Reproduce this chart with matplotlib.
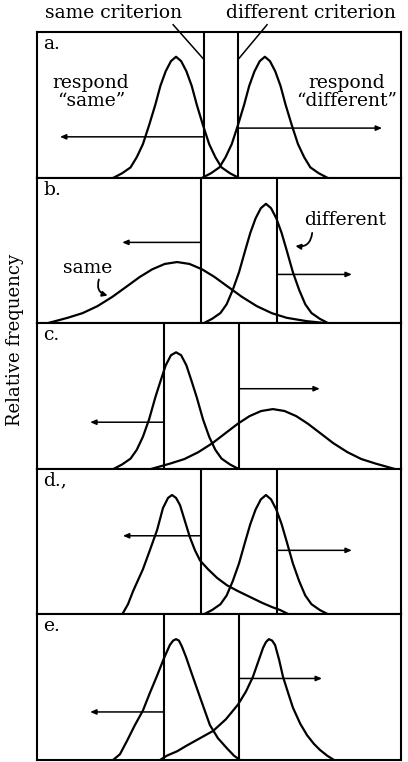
import matplotlib
matplotlib.use('Agg')
import matplotlib.pyplot as plt

plt.rcParams['font.family'] = 'DejaVu Serif'

# Five panels, evidence axis 0-100, relative frequency 0-1
panels = ['a.', 'b.', 'c.', 'd.,', 'e.']
same_crit = [45.9, 45.1, 34.9, 45.1, 34.9]
diff_crit = [55.2, 65.9, 55.5, 65.9, 55.5]

# response arrows start at the criterion, at a height, and run to an end x
same_arrow_y = [0.28, 0.555, 0.32, 0.54, 0.33]
same_arrow_end = [6.3, 23.4, 14.6, 23.6, 14.6]
diff_arrow_y = [0.34, 0.335, 0.55, 0.44, 0.56]
diff_arrow_end = [94.8, 86.5, 77.7, 86.5, 78.3]

# "same" distributions
same_x = [
    [21.1, 23.4, 25.7, 27.4, 29.1, 30.8, 32.5, 33.9, 35.35, 36.8, 38.2, 39.6, 41.05, 42.5, 43.9,
     45.6, 47.3, 49.0, 50.7, 53.0, 55.3],
    [2.9, 8.4, 12.5, 16.6, 20.7, 24.8, 28.2, 31.65, 35.1, 38.5, 41.9, 45.35, 48.8, 52.2, 56.3,
     60.4, 64.5, 68.6, 74.1, 79.6],
    [21.1, 23.4, 25.7, 27.4, 29.1, 30.8, 32.5, 33.9, 35.35, 36.8, 38.2, 39.6, 41.05, 42.5, 43.9,
     45.6, 47.3, 49.0, 50.7, 53.0, 55.3],
    [23.4, 25.0, 26.4, 29.1, 31.0, 33.0, 34.6, 36.0, 37.1, 38.2, 39.3, 40.4, 42.0, 43.4, 44.8, 47.0,
     49.5, 52.2, 55.2, 58.5, 61.8, 64.6, 66.8, 69.2],
    [20.9, 22.8, 24.7, 26.9, 29.1, 31.0, 33.0, 34.9, 36.5, 37.4, 38.2, 39.0, 39.8, 40.9, 42.0, 44.8,
     47.5, 49.7, 52.2, 54.1, 55.8],
]
same_y = [
    [0.0, 0.03, 0.07, 0.14, 0.23, 0.36, 0.50, 0.63, 0.73, 0.80, 0.83, 0.80, 0.73, 0.63, 0.50,
     0.36, 0.23, 0.14, 0.07, 0.03, 0.0],
    [0.0, 0.037, 0.069, 0.117, 0.181, 0.255, 0.317, 0.370, 0.407, 0.42, 0.407, 0.370, 0.317, 0.255,
     0.181, 0.117, 0.069, 0.037, 0.014, 0.0],
    [0.0, 0.03, 0.07, 0.13, 0.22, 0.34, 0.49, 0.60, 0.71, 0.78, 0.80, 0.78, 0.71, 0.60, 0.49,
     0.34, 0.22, 0.13, 0.07, 0.03, 0.0],
    [0.0, 0.07, 0.16, 0.31, 0.44, 0.58, 0.73, 0.80, 0.82, 0.80, 0.75, 0.66, 0.53, 0.44, 0.37, 0.31,
     0.25, 0.20, 0.16, 0.12, 0.08, 0.05, 0.03, 0.0],
    [0.0, 0.04, 0.13, 0.24, 0.34, 0.46, 0.58, 0.70, 0.79, 0.82, 0.83, 0.82, 0.78, 0.71, 0.63, 0.43,
     0.24, 0.15, 0.08, 0.03, 0.0],
]

# "different" distributions
diff_x = [
    [45.5, 47.8, 50.1, 51.8, 53.5, 55.2, 56.9, 58.3, 59.75, 61.2, 62.6, 64.0, 65.45, 66.9, 68.3,
     70.0, 71.7, 73.4, 75.1, 77.4, 79.7],
    [45.8, 48.1, 50.4, 52.1, 53.8, 55.5, 57.2, 58.6, 60.05, 61.5, 62.9, 64.3, 65.75, 67.2, 68.6,
     70.3, 72.0, 73.7, 75.4, 77.7, 80.0],
    [31.5, 36.6, 40.5, 44.3, 48.2, 52.0, 55.2, 58.4, 61.6, 64.8, 68.0, 71.2, 74.4, 77.6, 81.4,
     85.3, 89.1, 93.0, 98.1],
    [45.8, 48.1, 50.4, 52.1, 53.8, 55.5, 57.2, 58.6, 60.05, 61.5, 62.9, 64.3, 65.75, 67.2, 68.6,
     70.3, 72.0, 73.7, 75.4, 77.7, 80.0],
    [33.8, 35.7, 38.5, 41.2, 44.8, 48.4, 51.9, 55.2, 57.4, 59.3, 60.7, 62.1, 62.9, 63.7, 64.6, 65.4,
     66.5, 67.6, 69.0, 70.3, 72.3, 74.2, 76.1, 77.7, 79.7, 81.6],
]
diff_y = [
    [0.0, 0.03, 0.07, 0.14, 0.23, 0.36, 0.50, 0.63, 0.73, 0.80, 0.83, 0.80, 0.73, 0.63, 0.50,
     0.36, 0.23, 0.14, 0.07, 0.03, 0.0],
    [0.0, 0.03, 0.07, 0.13, 0.23, 0.35, 0.50, 0.62, 0.72, 0.79, 0.82, 0.79, 0.72, 0.62, 0.50,
     0.35, 0.23, 0.13, 0.07, 0.03, 0.0],
    [0.0, 0.036, 0.067, 0.114, 0.176, 0.249, 0.31, 0.362, 0.397, 0.41, 0.397, 0.362, 0.31, 0.249,
     0.176, 0.114, 0.067, 0.036, 0.0],
    [0.0, 0.03, 0.07, 0.13, 0.23, 0.35, 0.50, 0.62, 0.72, 0.79, 0.82, 0.79, 0.72, 0.62, 0.50,
     0.35, 0.23, 0.13, 0.07, 0.03, 0.0],
    [0.0, 0.03, 0.06, 0.10, 0.15, 0.20, 0.28, 0.38, 0.47, 0.57, 0.67, 0.77, 0.81, 0.83, 0.82, 0.79,
     0.69, 0.57, 0.46, 0.36, 0.25, 0.17, 0.11, 0.07, 0.03, 0.0],
]

fig = plt.figure(figsize=(4.08, 7.62), dpi=100)

left, width = 37 / 408, 364 / 408
top_px, bottom_px = 32, 760
h_px = (bottom_px - top_px) / 5
lw = 1.5
fs = 13.5
arrow_kw = dict(arrowstyle='-|>,head_length=0.35,head_width=0.15', color='black', lw=1.1,
                shrinkA=0, shrinkB=0)

axes = []
for i in range(5):
    y0 = 1 - (top_px + (i + 1) * h_px) / 762
    ax = fig.add_axes([left, y0, width, h_px / 762])
    ax.set_xlim(0, 100)
    ax.set_ylim(0, 1)
    ax.set_xticks([])
    ax.set_yticks([])
    for s in ax.spines.values():
        s.set_linewidth(lw)

    ax.plot(same_x[i], same_y[i], color='black', lw=1.6, solid_joinstyle='round')
    ax.plot(diff_x[i], diff_y[i], color='black', lw=1.6, solid_joinstyle='round')

    ax.axvline(same_crit[i], color='black', lw=lw)
    ax.axvline(diff_crit[i], color='black', lw=lw)

    ax.annotate('', xy=(same_arrow_end[i], same_arrow_y[i]),
                xytext=(same_crit[i], same_arrow_y[i]), arrowprops=arrow_kw)
    ax.annotate('', xy=(diff_arrow_end[i], diff_arrow_y[i]),
                xytext=(diff_crit[i], diff_arrow_y[i]), arrowprops=arrow_kw)

    ax.text(1.8, 0.98, panels[i], fontsize=fs, ha='left', va='top')
    axes.append(ax)

# panel a: criterion labels with leader lines, response labels
ax = axes[0]
ax.text(20.9, 1.13, 'same criterion', fontsize=fs, ha='center', va='center')
ax.text(75.3, 1.13, 'different criterion', fontsize=fs, ha='center', va='center')
ax.plot([37.4, same_crit[0]], [1.05, 0.81], color='black', lw=1.1, clip_on=False)
ax.plot([63.2, diff_crit[0]], [1.05, 0.81], color='black', lw=1.1, clip_on=False)
ax.text(14.8, 0.59, 'respond\n\u201csame\u201d', fontsize=fs, ha='center', va='center',
        linespacing=1.0)
ax.text(85.0, 0.59, 'respond\n\u201cdifferent\u201d', fontsize=fs, ha='center', va='center',
        linespacing=1.0)

# panel b: distribution labels with little squiggle arrows
ax = axes[1]
ax.text(14.0, 0.38, 'same', fontsize=fs, ha='center', va='center')
ax.text(84.6, 0.71, 'different', fontsize=fs, ha='center', va='center')
ax.annotate('', xy=(19.4, 0.19), xytext=(17.0, 0.30),
            arrowprops=dict(arrowstyle='-|>,head_length=0.3,head_width=0.15', color='black',
                            lw=1.3, connectionstyle='arc3,rad=0.5', shrinkA=0, shrinkB=0))
ax.annotate('', xy=(71.0, 0.53), xytext=(75.6, 0.62),
            arrowprops=dict(arrowstyle='-|>,head_length=0.3,head_width=0.15', color='black',
                            lw=1.3, connectionstyle='arc3,rad=-0.5', shrinkA=0, shrinkB=0))

fig.text(15 / 408, 1 - 340 / 762, 'Relative frequency', rotation=90, fontsize=13,
         ha='center', va='center')

fig.savefig('out.png', dpi=100)
